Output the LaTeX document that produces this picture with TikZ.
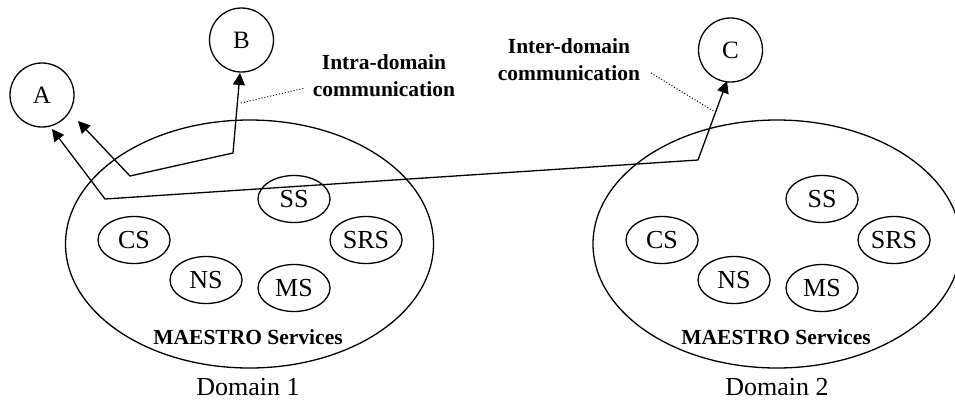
\documentclass[tikz,border=0pt]{standalone}
\usepackage{fontspec}
\setmainfont{Liberation Serif}
\usetikzlibrary{shapes.geometric,arrows.meta}
\begin{document}
\begin{tikzpicture}[x=1pt,y=-1pt,
  every node/.style={inner sep=0pt},
  ln/.style={line width=1.3pt},
  hostc/.style={circle,draw,ln,minimum size=64pt,font=\fontsize{25}{27}\selectfont},
  domainbox/.style={ellipse,draw,ln,minimum width=368pt,minimum height=248pt},
  svc/.style={ellipse,draw,ln,minimum width=72pt,minimum height=47pt,font=\fontsize{26}{28}\selectfont},
  boldlbl/.style={font=\bfseries\fontsize{21.5}{27}\selectfont,align=center},
  capt/.style={font=\fontsize{26}{28}\selectfont},
  arrs/.style={ln,{Triangle[length=12pt,width=12pt]}-{Triangle[length=12pt,width=12pt]}},
  dots/.style={line width=1pt,dotted}]
\useasboundingbox (0,0) rectangle (955,400);
% domains
\node[domainbox] (D1) at (249.5,244) {};
\node[domainbox] (D2) at (777,244) {};
% hosts
\node[hostc] (A) at (42,95) {A};
\node[hostc] (B) at (241.5,40) {B};
\node[hostc] (C) at (730.5,50) {C};
% services domain 1
\node[svc] (SS1) at (294,199) {SS};
\node[svc] (CS1) at (134,240) {CS};
\node[svc] (SRS1) at (366,240) {SRS};
\node[svc] (NS1) at (206,280) {NS};
\node[svc] (MS1) at (294,288) {MS};
\node[boldlbl] (M1) at (248,337) {MAESTRO Services};
\node[capt] (L1) at (248,387) {Domain 1};
% services domain 2
\node[svc] (SS2) at (822,199) {SS};
\node[svc] (CS2) at (662,240) {CS};
\node[svc] (SRS2) at (894,240) {SRS};
\node[svc] (NS2) at (734,280) {NS};
\node[svc] (MS2) at (822,288) {MS};
\node[boldlbl] (M2) at (776,337) {MAESTRO Services};
\node[capt] (L2) at (777,387) {Domain 2};
% labels
\node[boldlbl] (intra) at (384,76) {Intra-domain\\communication};
\node[boldlbl] (inter) at (569,60) {Inter-domain\\communication};
% coordinates
\coordinate (a1) at (78,121);
\coordinate (k1) at (130,176);
\coordinate (k2) at (233,153);
\coordinate (b1) at (240,73);
\coordinate (a2) at (52,129);
\coordinate (k3) at (105,199);
\coordinate (k4) at (698,160);
\coordinate (c1) at (727,81);
\coordinate (d1) at (241,103);
\coordinate (d2) at (305,88);
\coordinate (d3) at (651,73);
\coordinate (d4) at (715,112);
% connectors
\draw[arrs] (a1) -- (k1) -- (k2) -- (b1);
\draw[arrs] (a2) -- (k3) -- (k4) -- (c1);
\draw[dots] (d1) -- (d2);
\draw[dots] (d3) -- (d4);
\end{tikzpicture}
\end{document}
